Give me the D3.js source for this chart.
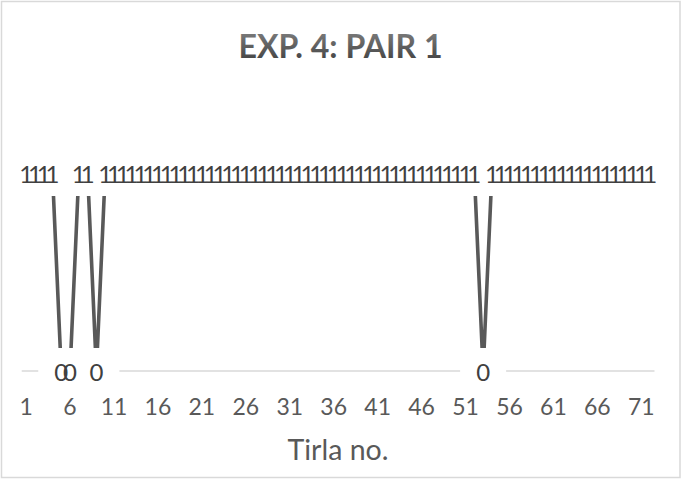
<!DOCTYPE html>
<html>
<head>
<meta charset="utf-8">
<script src="https://cdn.jsdelivr.net/npm/d3@7"></script>
<style>
  html, body { margin: 0; padding: 0; background: #ffffff; }
  svg { display: block; }
</style>
</head>
<body>
<svg id="chart" width="684" height="481"></svg>
<script>
// ---- data ----
const chartTitle = "EXP. 4: PAIR 1";
const xAxisTitle = "Tirla no.";
const trials = d3.range(1, 73); // 1..72
const values = [
  1,1,1,1,0,0,1,1,0,1,
  1,1,1,1,1,1,1,1,1,1,
  1,1,1,1,1,1,1,1,1,1,
  1,1,1,1,1,1,1,1,1,1,
  1,1,1,1,1,1,1,1,1,1,
  1,1,0,1,1,1,1,1,1,1,
  1,1,1,1,1,1,1,1,1,1,
  1,1
];
const tickLabels = [1, 6, 11, 16, 21, 26, 31, 36, 41, 46, 51, 56, 61, 66, 71];

const data = trials.map((t, i) => ({ t, v: values[i] }));

const svg = d3.select("#chart");

// gradient for title
const defs = svg.append("defs");
const grad = defs.append("linearGradient").attr("id", "titleGrad")
  .attr("x1", 0).attr("y1", 0).attr("x2", 0).attr("y2", 1);
grad.append("stop").attr("offset", "0%").attr("stop-color", "#858585");
grad.append("stop").attr("offset", "100%").attr("stop-color", "#3c3c3c");

// chart border
svg.append("rect")
  .attr("x", 1.5).attr("y", 1.5).attr("width", 678.5).attr("height", 476)
  .attr("fill", "#ffffff").attr("stroke", "#d9d9d9").attr("stroke-width", 1.5);

// scales
const x = d3.scaleBand().domain(trials).range([21.7, 654.5]).padding(0);
const cx = d => x(d) + x.bandwidth() / 2;
const y = d3.scaleLinear().domain([0, 1]).range([371, 173]);

// category axis line
svg.append("line")
  .attr("x1", x.range()[0]).attr("x2", x.range()[1])
  .attr("y1", y(0)).attr("y2", y(0))
  .attr("stroke", "#d9d9d9").attr("stroke-width", 1.3);

// tick labels
const xAxis = d3.axisBottom(x)
  .tickValues(tickLabels)
  .tickSize(0)
  .tickPadding(0);
const gx = svg.append("g").attr("transform", `translate(0,${414.5})`).call(xAxis);
gx.select(".domain").remove();
gx.selectAll("text")
  .attr("dy", 0).attr("y", 0)
  .attr("font-family", "Lato, 'Open Sans', sans-serif")
  .attr("font-size", 23)
  .attr("fill", "#595959");

// line
const line = d3.line().x(d => cx(d.t)).y(d => y(d.v));
svg.append("path")
  .datum(data)
  .attr("d", line)
  .attr("fill", "none")
  .attr("stroke", "#595959")
  .attr("stroke-width", 3.6)
  .attr("stroke-linejoin", "miter");

// data label boxes (white), drawn first
const boxW = 46, boxH = 46;
svg.append("g").selectAll("rect")
  .data(data).join("rect")
  .attr("x", d => cx(d.t) - boxW / 2)
  .attr("y", d => y(d.v) - boxH / 2)
  .attr("width", boxW).attr("height", boxH)
  .attr("fill", "#ffffff");

// data label text
svg.append("g").selectAll("text")
  .data(data).join("text")
  .attr("x", d => cx(d.t))
  .attr("y", d => y(d.v) + 9.5)
  .attr("text-anchor", "middle")
  .attr("font-family", "Lato, 'Open Sans', sans-serif")
  .attr("font-size", 24)
  .attr("fill", "#404040")
  .text(d => d.v);

// title
svg.append("text")
  .attr("x", 340.5).attr("y", 57.7)
  .attr("text-anchor", "middle")
  .attr("font-family", "Lato, 'Open Sans', sans-serif")
  .attr("font-weight", "bold")
  .attr("font-size", 31.5)
  .attr("fill", "url(#titleGrad)")
  .attr("textLength", 204)
  .attr("lengthAdjust", "spacingAndGlyphs")
  .text(chartTitle);

// x axis title
svg.append("text")
  .attr("x", 338).attr("y", 460)
  .attr("text-anchor", "middle")
  .attr("font-family", "Lato, 'Open Sans', sans-serif")
  .attr("font-size", 28.5)
  .attr("fill", "#595959")
  .text(xAxisTitle);
</script>
</body>
</html>
